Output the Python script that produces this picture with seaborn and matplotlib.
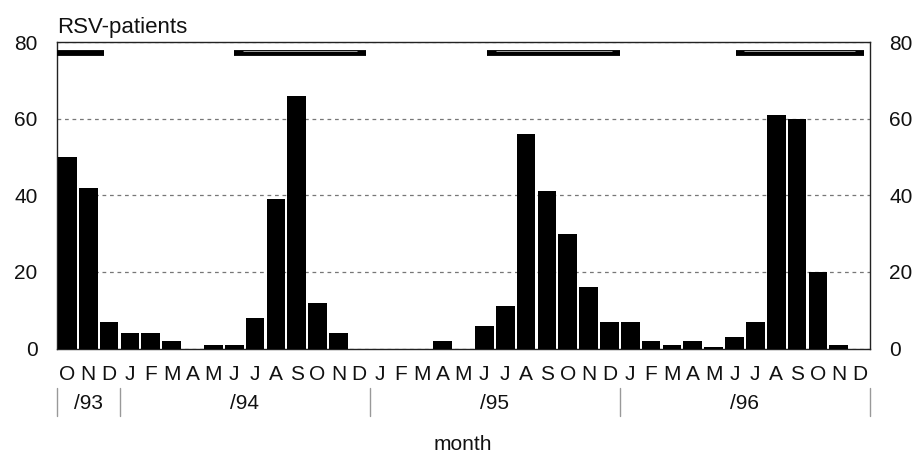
import matplotlib
matplotlib.use("Agg")
import matplotlib.pyplot as plt
import matplotlib.transforms as mtransforms
import numpy as np
import seaborn as sns

# monthly RSV patients, Oct 1993 - Dec 1996
months = list("OND" + "JFMAMJJASOND" * 3)
patients = [50, 42, 7, 4, 4, 2, 0, 1, 1, 8, 39, 66, 12, 4, 0,
            0, 0, 0, 2, 0, 6, 11, 56, 41, 30, 16, 7,
            7, 2, 1, 2, 0.5, 3, 7, 61, 60, 20, 1, 0]

year_labels = ["/93", "/94", "/95", "/96"]
year_months = [3, 12, 12, 12]

# RSV season bars along the top (in month-index units)
season_start = [-0.55, 8.0, 20.15, 32.05]
season_end = [1.75, 14.3, 26.5, 38.2]

sns.set_style("white")
plt.rcParams["font.family"] = ["Liberation Sans", "DejaVu Sans"]

fig = plt.figure(figsize=(9.16, 4.53), dpi=100)
ax = fig.add_axes([57 / 916, 1 - 348.5 / 453, (870 - 57) / 916, (348.5 - 42) / 453])

idx = np.arange(len(months))
sns.barplot(x=idx, y=patients, color="black", saturation=1, width=0.9,
            edgecolor="none", ax=ax, zorder=3)

ax.set_xlim(-0.5, len(months) - 0.5)
ax.set_ylim(0, 80)
ax.set_yticks([0, 20, 40, 60, 80])
ax.yaxis.grid(True, linestyle=(0, (3, 3)), color="#777777", linewidth=0.9)
ax.xaxis.grid(False)
ax.set_axisbelow(True)

ax.set_xticks(idx)
ax.set_xticklabels(months)
ax.tick_params(axis="x", length=0, pad=12, labelsize=15, colors="#111111")
ax.tick_params(axis="y", length=0, pad=14, labelsize=15, colors="#111111",
               labelleft=True, labelright=True)
ax.set_xlabel("")
ax.set_ylabel("")

for s in ax.spines.values():
    s.set_visible(True)
    s.set_color("#222222")
    s.set_linewidth(1.0)

# season bars (scanned double-line look: thin light line inside)
ax.hlines([77.2] * len(season_start), season_start, season_end,
          colors="black", linewidth=4.2, zorder=4)
ax.hlines([77.7] * 3, np.array(season_start[1:]) + 0.4,
          np.array(season_end[1:]) - 0.4, colors="#dddddd",
          linewidth=0.5, zorder=5)

# year rows below month letters
trans = mtransforms.blended_transform_factory(ax.transData, ax.transAxes)
bounds = np.concatenate([[0], np.cumsum(year_months)]) - 0.5
for b in bounds:
    ax.plot([b, b], [-0.129, -0.220], transform=trans, color="#999999",
            linewidth=1.0, clip_on=False)
for lab, a, b in zip(year_labels, bounds[:-1], bounds[1:]):
    ax.text((a + b) / 2, -0.178, lab, transform=trans, ha="center",
            va="center", fontsize=15, color="#111111")

ax.text(0, 1 + 9 / 306.5, "RSV-patients", transform=ax.transAxes,
        ha="left", va="baseline", fontsize=16, color="#111111")
fig.text(463 / 916, 3 / 453, "month", ha="center", va="baseline",
         fontsize=15, color="#111111")

fig.savefig("out.png", dpi=100, facecolor="white")
